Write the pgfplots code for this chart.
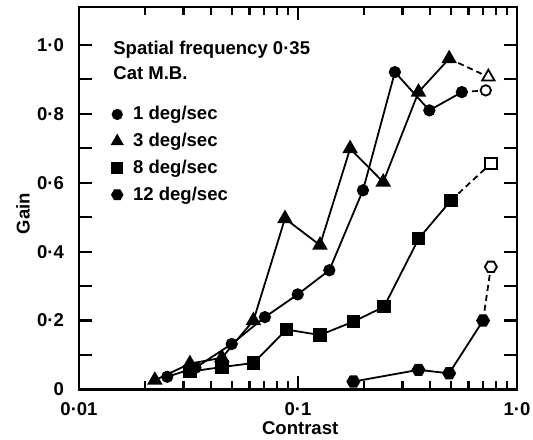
\documentclass[border=0pt]{standalone}
\usepackage{pgfplots}
\pgfplotsset{compat=1.18}
\usepackage{fontspec}
\setmainfont{Liberation Sans}

\pgfdeclareplotmark{hexagon}{%
  \pgfpathmoveto{\pgfpointpolar{0}{\pgfplotmarksize}}%
  \pgfpathlineto{\pgfpointpolar{60}{\pgfplotmarksize}}%
  \pgfpathlineto{\pgfpointpolar{120}{\pgfplotmarksize}}%
  \pgfpathlineto{\pgfpointpolar{180}{\pgfplotmarksize}}%
  \pgfpathlineto{\pgfpointpolar{240}{\pgfplotmarksize}}%
  \pgfpathlineto{\pgfpointpolar{300}{\pgfplotmarksize}}%
  \pgfpathclose
  \pgfusepathqfillstroke}

\newcommand{\chfont}{\fontsize{9.3}{11}\selectfont\bfseries}

\begin{document}
\begin{tikzpicture}
\begin{axis}[
  at={(0,0)}, anchor=south west,
  scale only axis,
  width=219bp, height=191.25bp,
  xmode=log,
  xmin=0.01, xmax=1.0,
  ymin=0, ymax=1.11,
  axis line style={line width=1.4bp},
  tick style={line width=1.1bp, black},
  tick align=inside,
  major tick length=6.5bp,
  minor tick length=4bp,
  xtick={0.01,0.1,1},
  xticklabels={0·01,0·1,1·0},
  ytick={0,0.1,0.2,0.3,0.4,0.5,0.6,0.7,0.8,0.9,1.0},
  yticklabels={0,{},0·2,{},0·4,{},0·6,{},0·8,{},1·0},
  ticklabel style={font=\chfont},
  xticklabel style={yshift=-3bp},
  yticklabel style={xshift=-4bp},
  xlabel={Contrast},
  ylabel={Gain},
  label style={font=\chfont},
  xlabel style={at={(axis description cs:0.505,-0.1)}, anchor=center},
  ylabel style={at={(axis description cs:-0.128,0.46)}, anchor=center},
  clip=false,
  legend cell align=left,
  legend style={draw=none, fill=none, font=\chfont,
    at={(rel axis cs:0.073,0.752)}, anchor=north west,
    row sep=1.2bp, inner sep=0pt,
    /tikz/every odd column/.append style={column sep=3bp}},
]
% 1 deg/sec
\addplot[forget plot, black, line width=0.9bp, mark=*, mark size=2.6bp] coordinates {
(0.0253,0.037) (0.034,0.063) (0.0498,0.132) (0.0706,0.21) (0.0997,0.276)
(0.139,0.346) (0.198,0.578) (0.277,0.921) (0.398,0.810) (0.56,0.863)};
\addplot[forget plot, black, line width=0.9bp, dash pattern=on 3bp off 2bp, mark=*, mark size=2.6bp, mark options={solid, fill=white}, mark indices={2}] coordinates {
(0.56,0.863) (0.72,0.868)};
% 3 deg/sec
\addplot[forget plot, black, line width=0.9bp, mark=triangle*, mark size=3.6bp] coordinates {
(0.0222,0.027) (0.0321,0.075) (0.0449,0.092) (0.0626,0.20) (0.0872,0.496)
(0.126,0.419) (0.173,0.699) (0.245,0.602) (0.355,0.863) (0.49,0.96)};
\addplot[forget plot, black, line width=0.9bp, dash pattern=on 3bp off 2bp, mark=triangle*, mark size=3.6bp, mark options={solid, fill=white}, mark indices={2}] coordinates {
(0.49,0.96) (0.74,0.907)};
% 8 deg/sec
\addplot[forget plot, black, line width=0.9bp, mark=square*, mark size=2.9bp] coordinates {
(0.0321,0.052) (0.0449,0.065) (0.0626,0.077) (0.0887,0.174) (0.126,0.158)
(0.179,0.197) (0.247,0.240) (0.356,0.438) (0.50,0.549)};
\addplot[forget plot, black, line width=0.9bp, dash pattern=on 3bp off 2bp, mark=square*, mark size=2.9bp, mark options={solid, fill=white}, mark indices={2}] coordinates {
(0.50,0.549) (0.76,0.656)};
% 12 deg/sec
\addplot[forget plot, black, line width=0.9bp, mark=hexagon, mark size=3bp, mark options={fill=black}] coordinates {
(0.179,0.023) (0.355,0.057) (0.49,0.047) (0.70,0.20)};
\addplot[forget plot, black, line width=0.9bp, dash pattern=on 3bp off 2bp, mark=hexagon, mark size=3bp, mark options={solid, fill=white}, mark indices={2}] coordinates {
(0.70,0.20) (0.76,0.356)};

\addlegendimage{only marks, black, mark=*, mark size=2.6bp}
\addlegendentry{1 deg/sec}
\addlegendimage{only marks, black, mark=triangle*, mark size=3.4bp}
\addlegendentry{3 deg/sec}
\addlegendimage{only marks, black, mark=square*, mark size=2.7bp}
\addlegendentry{8 deg/sec}
\addlegendimage{only marks, black, mark=hexagon, mark size=2.9bp, mark options={fill=black}}
\addlegendentry{12 deg/sec}

\node[anchor=base west, font=\chfont, inner sep=0pt] at (rel axis cs:0.0776,0.876) {Spatial frequency 0·35};
\node[anchor=base west, font=\chfont, inner sep=0pt] at (rel axis cs:0.0776,0.810) {Cat M.B.};
\end{axis}
\pgfresetboundingbox
\useasboundingbox (-39.5bp,-25.25bp) rectangle (227bp,194.75bp);
\end{tikzpicture}
\end{document}
